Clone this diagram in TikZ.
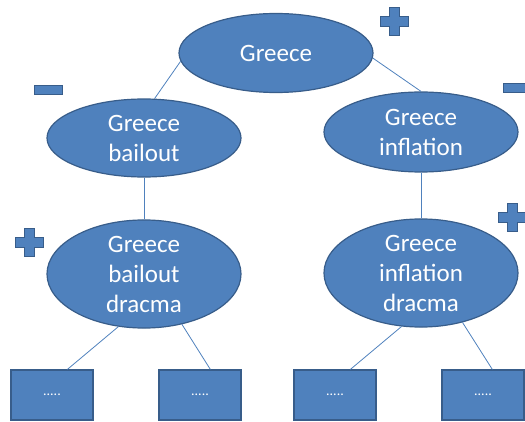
\documentclass[tikz,border=0pt]{standalone}
\usepackage{fontspec}
\setmainfont{Carlito}
\usetikzlibrary{shapes.geometric}
\definecolor{nodeBlue}{HTML}{4F81BD}
\definecolor{edgeBlue}{HTML}{385D8A}
\begin{document}
\begin{tikzpicture}[x=1pt, y=-1pt,
		topic/.style={ellipse, draw=edgeBlue, line width=1.2pt, fill=nodeBlue,
			text=white, inner sep=0pt, minimum width=194pt, align=center,
			font=\fontsize{25}{30}\selectfont},
		leaf/.style={rectangle, draw=edgeBlue, line width=1.2pt, fill=nodeBlue,
			text=white, inner sep=0pt, minimum width=82pt, minimum height=50pt,
			font=\fontsize{14}{16}\selectfont},
		link/.style={draw=nodeBlue, line width=0.8pt}]
	\useasboundingbox (0,0) rectangle (525,422);
	\newcommand{\signPlus}[2]{
		% draws a plus sign
		% args: centre x, centre y
		\draw[draw=edgeBlue, line width=1pt, fill=nodeBlue]
			(#1-5,#2-14) -- (#1+5,#2-14) -- (#1+5,#2-5) -- (#1+14,#2-5)
			-- (#1+14,#2+5) -- (#1+5,#2+5) -- (#1+5,#2+14) -- (#1-5,#2+14)
			-- (#1-5,#2+5) -- (#1-14,#2+5) -- (#1-14,#2-5) -- (#1-5,#2-5) -- cycle;
	}
	\newcommand{\signMinus}[2]{
		% draws a minus sign
		% args: centre x, centre y
		\draw[draw=edgeBlue, line width=1pt, fill=nodeBlue]
			(#1-14,#2-4.5) rectangle (#1+14,#2+4.5);
	}
	%
	% tree nodes
	\node[topic, minimum height=79pt] (greece) at (276,53) {Greece};
	\node[topic, minimum height=78pt] (bailout) at (144,138) {Greece\\bailout};
	\node[topic, minimum height=80pt] (inflation) at (421,132) {Greece\\inflation};
	\node[topic, minimum height=98pt] (bdracma) at (144,274) {Greece\\bailout\\dracma};
	\node[topic, minimum height=100pt] (idracma) at (421,273) {Greece\\inflation\\dracma};
	% leaves
	\node[leaf] (leafA) at (52,395) {.....};
	\node[leaf] (leafB) at (200,395) {.....};
	\node[leaf] (leafC) at (335,395) {.....};
	\node[leaf] (leafD) at (483,395) {.....};
	% connectors
	\draw[link] (greece.185) -- (bailout.75);
	\draw[link] (greece.357) -- (inflation.north);
	\draw[link] (bailout.south) -- (bdracma.north);
	\draw[link] (inflation.south) -- (idracma.north);
	\draw[link] (bdracma.244) -- (leafA.59);
	\draw[link] (bdracma.307) -- (leafB.68);
	\draw[link] (idracma.250) -- (leafC.59);
	\draw[link] (idracma.310) -- (leafD.70);
	% signs
	\signPlus{394}{22}
	\signMinus{48}{90}
	\signMinus{517}{88.5}
	\signPlus{29}{243}
	\signPlus{512}{218}
\end{tikzpicture}
\end{document}
